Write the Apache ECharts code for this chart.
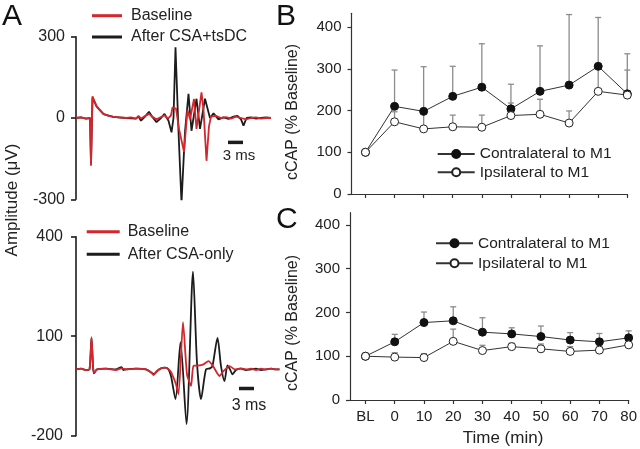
<!DOCTYPE html>
<html>
<head>
<meta charset="utf-8">
<script src="https://cdn.jsdelivr.net/npm/echarts@6/dist/echarts.min.js"></script>
<style>html,body{margin:0;padding:0;background:#fff;}#chart{width:640px;height:449px;}</style>
</head>
<body>
<div id="chart"></div>
<script>
// ---------- Panel A traces: [time (ms), amplitude (uV)] ----------
const traceTopBaseline = [[0,0],[1,2],[2,-2],[2.8,0],[3.0,-176],[3.3,80],[3.7,62],[4.1,45],[4.8,28],[5.5,15],[6.5,8],[7.4,5],[8.5,2],[10,0],[11,2],[12,-2],[12.5,8],[13,-2],[13.6,5],[14.6,15],[15.2,5],[16.1,-5],[16.8,2],[17.7,10],[18.4,-2],[19.0,10],[19.3,39],[20.0,35],[20.6,-40],[21.6,-125],[22.3,30],[22.8,-5],[23.6,70],[24.1,-40],[25.1,95],[25.5,30],[26.1,-158],[26.6,-30],[27.0,5],[28.0,8],[29,0],[30,3],[31,-2],[32,5],[33,0],[34,-5],[35,0],[36,2],[37,-2],[38,0],[39,0]];
const traceTopAfter = [[0,0],[1,2],[2,-2],[2.8,0],[3.0,-170],[3.3,75],[4.1,43],[5.5,14],[7.4,4],[10,0],[12,-2],[12.5,5],[13.0,-10],[13.8,5],[14.6,23],[15.3,3],[16.1,-15],[17.0,0],[17.7,15],[18.5,-10],[19.1,-53],[19.5,0],[19.9,261],[20.5,-50],[21.1,-312],[21.8,-50],[22.5,89],[23.1,-47],[24.1,71],[24.8,-40],[25.8,71],[26.8,0],[27.5,17],[28.5,-5],[29.5,2],[30.5,-3],[31.5,5],[32.3,8],[33.0,-5],[33.5,-28],[34.1,0],[35,2],[36,-2],[37,0],[38,2],[39,0]];
const traceBotBaseline = [[0,0],[1,2],[2,-2],[2.7,0],[3.1,97],[3.4,10],[3.6,-11],[4.2,0],[6,2],[8,-2],[9.1,3],[10,0],[12,2],[14,0],[15.1,-10],[15.5,-17],[16.2,-5],[17.0,3],[17.8,5],[18.5,0],[19.0,-8],[19.5,-25],[20.0,-45],[20.5,-75],[21.4,142],[22.2,-15],[23.0,-50],[23.5,10],[24.8,12],[25.5,15],[26.5,25],[27.4,10],[28.7,-20],[29.5,-5],[30.7,10],[31.5,2],[32,0],[33,3],[34,0],[35,2],[36,-2],[37,2],[38,0],[39,2],[40,0],[40.7,0]];
const traceBotAfter = [[0,0],[1,2],[2,-2],[2.7,0],[3.1,95],[3.4,10],[3.6,-12],[4.2,0],[6,2],[8,0],[9.1,7],[9.5,-2],[10,0],[12,2],[14,0],[15.1,-10],[15.6,-14],[16.3,-4],[17,3],[17.8,5],[18.5,0],[19.0,-20],[19.9,-90],[20.9,82],[22.1,-165],[23.4,295],[24.2,20],[25.0,-90],[26.0,0],[26.8,3],[27.3,10],[28.3,95],[29.0,10],[29.7,-35],[30.3,12],[30.8,0],[31.3,-15],[32.0,-2],[33,2],[34,-2],[35,0],[36,2],[37,-2],[38,0],[39,2],[40,0],[40.7,0]];
const scaleBarTop = [[30.4,-90],[33.4,-90]];
const scaleBarBot = [[32.6,-58],[35.6,-58]];
const ampTicksTop = [-300, 0, 300];
const ampTicksBot = [-200, 100, 400];

// ---------- Panels B and C ----------
const timeLabels = ['BL','0','10','20','30','40','50','60','70','80'];
const timeValues = [-10, 0, 10, 20, 30, 40, 50, 60, 70, 80];
const cCapTicks = [0, 100, 200, 300, 400];
const contraB    = [100, 210, 198, 234, 256, 204, 246, 261, 306, 240];
const contraBErr = [null, 297, 305, 306, 360, 263, 355, 430, 423, 336];
const ipsiB      = [100, 173, 156, 161, 160, 188, 191, 170, 246, 237];
const ipsiBErr   = [null, 197, 196, 189, 189, 218, 227, 199, 302, 297];
const contraC    = [100, 133, 177, 181, 155, 151, 145, 137, 133, 142];
const contraCErr = [null, 150, 201, 213, 188, 165, 169, 154, 152, 158];
const ipsiC      = [100, 98, 97, 134, 113, 122, 117, 111, 114, 126];
const ipsiCErr   = [null, 108, 106, 162, 125, 130, 128, 122, 123, 134];

const FF = '"Liberation Sans", Arial, Helvetica, sans-serif';
const RED = '#d3272e', BLK = '#1c1c1c', TXT = '#222';

function pairs(vals){ return timeValues.map((t,i)=>[t, vals[i]]); }
function errPairs(vals, tops){
  const out = [];
  timeValues.forEach((t,i)=>{ if (tops[i] != null) out.push([t, vals[i], tops[i]]); });
  return out;
}
function renderErr(params, api){
  const x = api.value(0), lo = api.value(1), hi = api.value(2);
  const p0 = api.coord([x, lo]), p1 = api.coord([x, hi]);
  const w = 3;
  const st = {stroke:'#8c8c8c', lineWidth:1.3};
  return {type:'group', children:[
    {type:'line', shape:{x1:p0[0],y1:p0[1],x2:p1[0],y2:p1[1]}, style:st},
    {type:'line', shape:{x1:p1[0]-w,y1:p1[1],x2:p1[0]+w,y2:p1[1]}, style:st}
  ]};
}
const ampAxis = (ticks, min, max, margin) => ({
  type:'value', min, max, splitLine:{show:false},
  axisLine:{show:true, onZero:false, lineStyle:{color:BLK, width:1.6}},
  axisTick:{show:true, length:5, customValues:ticks, lineStyle:{color:BLK, width:1.6}},
  axisLabel:{customValues:ticks, fontSize:16, fontFamily:FF, color:TXT, margin}
});
const capAxis = (max) => ({
  type:'value', min:0, max, splitLine:{show:false},
  axisLine:{show:true, onZero:false, lineStyle:{color:'#333', width:1.2}},
  axisTick:{show:true, length:4, customValues:cCapTicks, lineStyle:{color:'#333', width:1.2}},
  axisLabel:{customValues:cCapTicks, fontSize:15, fontFamily:FF, color:TXT, margin:10}
});
const timeAxis = (min, showLabels) => ({
  type:'value', min, max:80, splitLine:{show:false},
  axisLine:{show:true, onZero:false, lineStyle:{color:'#333', width:1.2}},
  axisTick:{show:true, length:4, customValues:timeValues, lineStyle:{color:'#333', width:1.2}},
  axisLabel:{show:showLabels, customValues:timeValues, fontSize:15, fontFamily:FF, color:TXT, margin:9,
    formatter:(v)=>{ const i = timeValues.indexOf(v); return i >= 0 ? timeLabels[i] : ''; }}
});
const traceSeries = (name, data, color, xi, z, smooth) => ({
  name, type:'line', xAxisIndex:xi, yAxisIndex:xi, data, showSymbol:false, symbol:'none',
  smooth: smooth || false, lineStyle:{color, width:1.8}, itemStyle:{color}, z, silent:true
});
const capSeries = (name, vals, idx, filled) => ({
  name, type:'line', xAxisIndex:idx, yAxisIndex:idx, data:pairs(vals),
  symbol:'circle', symbolSize:8,
  itemStyle: filled ? {color:'#111', borderColor:'#111', borderWidth:1} : {color:'#fff', borderColor:'#222', borderWidth:1},
  lineStyle:{color:'#333', width:1}, z:4, silent:true
});
const errSeries = (vals, tops, idx) => ({
  type:'custom', xAxisIndex:idx, yAxisIndex:idx, data:errPairs(vals, tops),
  encode:{x:0, y:[1,2]}, renderItem:renderErr, z:2, silent:true
});
const legendBase = {orient:'vertical', padding:0, selectedMode:false, itemWidth:30, itemHeight:3,
  textStyle:{fontSize:16, fontFamily:FF, color:TXT, lineHeight:18}};

const option = {
  animation:false,
  backgroundColor:'#fff',
  grid:[
    {left:76, top:36.7, width:195, height:162.6},
    {left:76, top:236.7, width:205, height:199},
    {left:351.5, top:13.3, width:275.8, height:180.7},
    {left:350, top:212.7, width:282.7, height:187.3}
  ],
  xAxis:[
    {type:'value', gridIndex:0, min:0, max:39, show:false},
    {type:'value', gridIndex:1, min:0, max:41, show:false},
    Object.assign({gridIndex:2}, timeAxis(-14.8, false)),
    Object.assign({gridIndex:3}, timeAxis(-15.3, true))
  ],
  yAxis:[
    Object.assign({gridIndex:0}, ampAxis(ampTicksTop, -300, 300, 11)),
    Object.assign({gridIndex:1}, ampAxis(ampTicksBot, -200, 400, 13)),
    Object.assign({gridIndex:2}, capAxis(433)),
    Object.assign({gridIndex:3}, capAxis(428))
  ],
  legend:[
    Object.assign({}, legendBase, {left:92, top:6.7, itemGap:3.3,
      textStyle:Object.assign({}, legendBase.textStyle, {padding:[0,0,0,4]}),
      data:[{name:'Baseline', icon:'rect'}, {name:'After CSA+tsDC', icon:'rect'}]}),
    Object.assign({}, legendBase, {left:86.7, top:222.7, itemWidth:33, itemGap:4.6,
      textStyle:Object.assign({}, legendBase.textStyle, {padding:[0,0,0,3]}),
      data:[{name:'Baseline', icon:'rect'}, {name:'After CSA-only', icon:'rect'}]}),
    {orient:'vertical', padding:0, selectedMode:false, left:436.7, top:145.5, itemWidth:37, itemHeight:10, itemGap:1.3,
      textStyle:{fontSize:15.5, fontFamily:FF, color:TXT, lineHeight:17},
      data:['Contralateral to M1', 'Ipsilateral to M1']},
    {orient:'vertical', padding:0, selectedMode:false, left:435, top:234.8, itemWidth:37, itemHeight:10, itemGap:3,
      textStyle:{fontSize:15.5, fontFamily:FF, color:TXT, lineHeight:17},
      data:['Contralateral to M1', 'Ipsilateral to M1']}
  ],
  series:[
    traceSeries('After CSA+tsDC', traceTopAfter, BLK, 0, 2),
    traceSeries('Baseline', traceTopBaseline, RED, 0, 3),
    {type:'line', xAxisIndex:0, yAxisIndex:0, data:scaleBarTop, symbol:'none', lineStyle:{color:BLK, width:3.5}, silent:true},
    traceSeries('After CSA-only', traceBotAfter, BLK, 1, 2, 0.25),
    traceSeries('Baseline', traceBotBaseline, RED, 1, 3, 0.2),
    {type:'line', xAxisIndex:1, yAxisIndex:1, data:scaleBarBot, symbol:'none', lineStyle:{color:BLK, width:3.5}, silent:true},
    errSeries(contraB, contraBErr, 2),
    errSeries(ipsiB, ipsiBErr, 2),
    capSeries('Contralateral to M1', contraB, 2, true),
    capSeries('Ipsilateral to M1', ipsiB, 2, false),
    errSeries(contraC, contraCErr, 3),
    errSeries(ipsiC, ipsiCErr, 3),
    capSeries('Contralateral to M1', contraC, 3, true),
    capSeries('Ipsilateral to M1', ipsiC, 3, false)
  ],
  graphic:[
    {type:'text', left:2, top:2, style:{text:'A', font:'30px '+FF, fill:'#111'}},
    {type:'text', left:276, top:2, style:{text:'B', font:'30px '+FF, fill:'#111'}},
    {type:'text', left:276, top:205, style:{text:'C', font:'30px '+FF, fill:'#111'}},
    {type:'text', x:12, y:200, rotation:Math.PI/2, style:{text:'Amplitude (μV)', font:'17px '+FF, fill:TXT, align:'center', verticalAlign:'middle'}},
    {type:'text', x:292.5, y:112, rotation:Math.PI/2, style:{text:'cCAP (% Baseline)', font:'16px '+FF, fill:TXT, align:'center', verticalAlign:'middle'}},
    {type:'text', x:292.5, y:323, rotation:Math.PI/2, style:{text:'cCAP (% Baseline)', font:'16px '+FF, fill:TXT, align:'center', verticalAlign:'middle'}},
    {type:'text', x:503, y:438, style:{text:'Time (min)', font:'17px '+FF, fill:TXT, align:'center', verticalAlign:'middle'}},
    {type:'text', x:239, y:156, style:{text:'3 ms', font:'15px '+FF, fill:TXT, align:'center', verticalAlign:'middle'}},
    {type:'text', x:249, y:406, style:{text:'3 ms', font:'16px '+FF, fill:TXT, align:'center', verticalAlign:'middle'}}
  ]
};
const chart = echarts.init(document.getElementById('chart'), null, {renderer:'canvas'});
chart.setOption(option);
</script>
</body>
</html>
